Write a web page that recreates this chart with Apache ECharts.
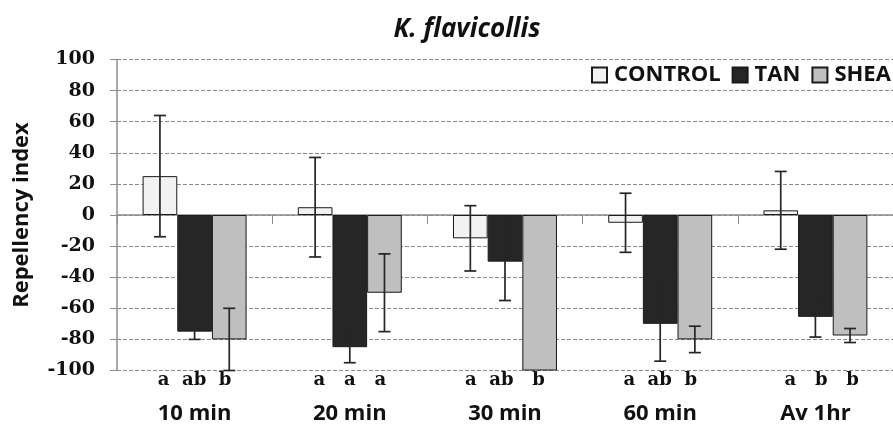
<!DOCTYPE html>
<html><head><meta charset="utf-8">
<script src="https://cdn.jsdelivr.net/npm/echarts@6/dist/echarts.min.js"></script>
<style>html,body{margin:0;padding:0;background:#fff}#c{width:893px;height:426px}</style>
</head><body><div id="c"></div>
<script>
const categories = ['10 min', '20 min', '30 min', '60 min', 'Av 1hr'];
const seriesNames = ['CONTROL', 'TAN', 'SHEA'];
const control = [25, 5, -15, -5, 3];
const tan = [-75, -85, -30, -70, -65.5];
const shea = [-80, -50, -100, -80, -77.5];
const controlErr = [39, 32, 21, 19, 25];
const tanErr = [5, 10, 25, 24, 13];
const sheaErr = [20, 25, null, 8.5, 4.5];
const letters = ['a  ab  b', 'a   a   a', 'a  ab   b', 'a  ab  b', '  a   b   b'];
const yTicks = [-100, -80, -60, -40, -20, 0, 20, 40, 60, 80, 100];

const colors = ['#f2f2f2', '#262626', '#bfbfbf'];
const means = [control, tan, shea];
const errs = [controlErr, tanErr, sheaErr];
const GAP = 0.33;
const YMIN = yTicks[0], YMAX = yTicks[yTicks.length - 1];

const chart = echarts.init(document.getElementById('c'));

function errSeries(k) {
  const data = [];
  means[k].forEach((m, i) => {
    if (errs[k][i] != null) data.push([i, m - errs[k][i], m + errs[k][i]]);
  });
  return {
    type: 'custom', name: 'err' + k, z: 5, silent: true,
    data: data,
    renderItem: function (params, api) {
      const x = api.value(0), lo = api.value(1), hi = api.value(2);
      const cw = api.size([1, 0])[0];
      const bw = cw * (1 - GAP) / 3;
      const loC = Math.max(lo, YMIN), hiC = Math.min(hi, YMAX);
      const p1 = api.coord([x, hiC]);
      const p2 = api.coord([x, loC]);
      const cx = p1[0] + (k - 1) * bw;
      const st = { stroke: '#262626', lineWidth: 1.7 };
      const ch = [{ type: 'line', shape: { x1: cx, y1: p1[1], x2: cx, y2: p2[1] }, style: st }];
      if (hi <= YMAX) ch.push({ type: 'line', shape: { x1: cx - 6, y1: p1[1], x2: cx + 6, y2: p1[1] }, style: st });
      if (lo >= YMIN) ch.push({ type: 'line', shape: { x1: cx - 6, y1: p2[1], x2: cx + 6, y2: p2[1] }, style: st });
      return { type: 'group', children: ch };
    }
  };
}

const letterSeries = {
  type: 'custom', name: 'letters', silent: true, clip: false,
  data: letters.map((t, i) => [i, YMIN]),
  renderItem: function (params, api) {
    const p = api.coord([api.value(0), api.value(1)]);
    return {
      type: 'text', x: p[0], y: p[1] + 10,
      style: { text: letters[params.dataIndex], textAlign: 'center', textVerticalAlign: 'middle',
        font: 'bold 18px "DejaVu Serif"', fill: '#111' }
    };
  }
};

const catSeries = {
  type: 'custom', name: 'catlabels', silent: true, clip: false,
  data: categories.map((c, i) => [i, YMIN]),
  renderItem: function (params, api) {
    const p = api.coord([api.value(0), api.value(1)]);
    return { type: 'text', x: p[0], y: p[1] + 43,
      style: { text: categories[params.dataIndex], textAlign: 'center', textVerticalAlign: 'middle',
        font: 'bold 22px "Open Sans"', fill: '#111' } };
  }
};

const barSeries = seriesNames.map((n, k) => ({
  type: 'bar', name: n, data: means[k],
  barGap: '0%', barCategoryGap: (GAP * 100) + '%',
  itemStyle: { color: colors[k], borderColor: '#1a1a1a', borderWidth: 1 }
}));

chart.setOption({
  animation: false,
  title: { text: 'K. flavicollis', left: 462, top: 12, textAlign: 'center',
    textStyle: { fontFamily: 'Open Sans', fontSize: 26, fontWeight: 'bold', fontStyle: 'italic', color: '#111' } },
  legend: {
    data: seriesNames, left: 591, top: 64, width: 500, padding: 0, itemGap: 11, itemWidth: 15, itemHeight: 15, icon: 'rect',
    textStyle: { fontFamily: 'Open Sans', fontSize: 22, fontWeight: 'bold', color: '#111', padding: [0, 0, 0, 2] }
  },
  grid: { left: 117, right: -11.5, top: 59.5, bottom: 55.5, containLabel: false },
  xAxis: {
    type: 'category', data: categories,
    axisLine: { onZero: true, lineStyle: { color: '#8c8c8c', width: 1.5 } },
    axisTick: { show: true, length: 9, lineStyle: { color: '#8c8c8c' } },
    axisLabel: { show: false }
  },
  yAxis: {
    type: 'value', min: YMIN, max: YMAX, interval: 20,
    name: 'Repellency index', nameLocation: 'middle', nameGap: 84, nameRotate: 90,
    nameTextStyle: { fontFamily: 'Open Sans', fontSize: 22, fontWeight: 'bold', color: '#111' },
    axisLine: { show: true, lineStyle: { color: '#8c8c8c', width: 1.5 } },
    axisTick: { show: true, length: 7, lineStyle: { color: '#8c8c8c' } },
    axisLabel: { fontFamily: 'DejaVu Serif', fontSize: 19, fontWeight: 'bold', color: '#111', margin: 22 },
    splitLine: { lineStyle: { type: [4, 2], color: '#8a8a8a', width: 1 } }
  },
  series: [...barSeries, errSeries(0), errSeries(1), errSeries(2), letterSeries, catSeries]
});
</script></body></html>
